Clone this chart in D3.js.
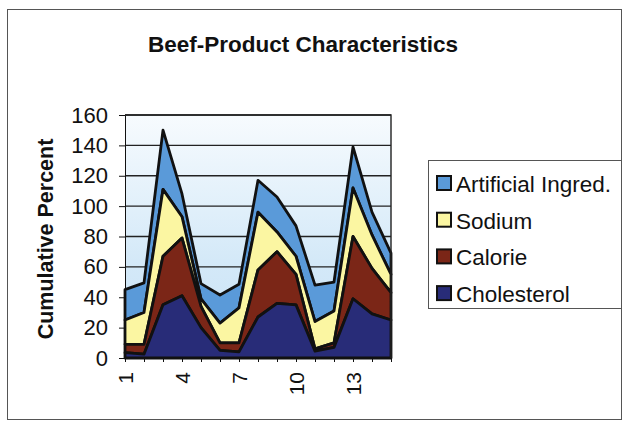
<!DOCTYPE html>
<meta charset="utf-8">
<style>
body { margin: 0; background: #fff; }
text { font-family: Arial, "Liberation Sans", sans-serif; fill: #111; }
.area { stroke: #111; stroke-width: 2.8; stroke-linejoin: round; }
.grid line { stroke: #222; stroke-width: 1.4; }
.axis path, .axis line { stroke: #111; }
</style>
<svg id="svg" width="623" height="422"></svg>
<script src="https://d3js.org/d3.v7.min.js"></script>
<script>
var categories = d3.range(1, 16);
var seriesNames = ["Cholesterol", "Calorie", "Sodium", "Artificial Ingred."];
var cholesterol = [3.5, 2.5, 35, 41, 20, 5, 4, 27, 36, 35, 4.5, 7, 39, 29, 25];
var calorie     = [5.5, 6.5, 32, 38, 14, 5, 6, 31, 34, 20, 1.5, 3, 41, 30, 18];
var sodium      = [16, 21, 44, 14, 5, 13, 23, 38, 13, 12, 18, 21, 32, 22, 12];
var artificial  = [20, 19.5, 39, 15, 10, 18.5, 15.5, 21, 23, 20, 24, 19, 27, 15, 14];
var yTicks = [0, 20, 40, 60, 80, 100, 120, 140, 160];
var xLabels = [1, 4, 7, 10, 13];
var colors = ["#282c78", "#7b2617", "#fbf6a2", "#5a9ad9"];

var svg = d3.select("svg");
var plot = {left: 125, right: 391, top: 115, bottom: 358};

// outer frame
svg.append("rect").attr("x", 7.5).attr("y", 9.5).attr("width", 614).attr("height", 410)
  .attr("fill", "none").attr("stroke", "#555");

var defs = svg.append("defs");
var grad = defs.append("linearGradient").attr("id", "bg").attr("x1", 0).attr("y1", 0).attr("x2", 0).attr("y2", 1);
grad.append("stop").attr("offset", "0%").attr("stop-color", "#f7fbfe");
grad.append("stop").attr("offset", "60%").attr("stop-color", "#d4e9f8");
grad.append("stop").attr("offset", "100%").attr("stop-color", "#c8e2f6");

var x = d3.scalePoint().domain(categories).range([plot.left, plot.right]);
var y = d3.scaleLinear().domain([0, 160]).range([plot.bottom, plot.top]);

svg.append("rect").attr("x", plot.left).attr("y", plot.top)
  .attr("width", plot.right - plot.left).attr("height", plot.bottom - plot.top)
  .attr("fill", "url(#bg)");

// gridlines
svg.append("g").attr("class", "grid")
  .selectAll("line").data(yTicks.slice(1)).enter().append("line")
  .attr("x1", plot.left).attr("x2", plot.right)
  .attr("y1", function(d) { return y(d); }).attr("y2", function(d) { return y(d); });

// stacked areas
var table = categories.map(function(c, i) {
  return {cat: c, "Cholesterol": cholesterol[i], "Calorie": calorie[i], "Sodium": sodium[i], "Artificial Ingred.": artificial[i]};
});
var stacked = d3.stack().keys(seriesNames)(table);
var area = d3.area()
  .x(function(d) { return x(d.data.cat); })
  .y0(function(d) { return y(d[0]); })
  .y1(function(d) { return y(d[1]); });

svg.selectAll(".area").data(stacked.slice().reverse()).enter().append("path")
  .attr("class", "area")
  .attr("fill", function(d) { return colors[seriesNames.indexOf(d.key)]; })
  .attr("d", area);

// plot frame (top/right)
svg.append("path")
  .attr("d", "M" + plot.left + "," + plot.top + "H" + plot.right + "V" + plot.bottom)
  .attr("fill", "none").attr("stroke", "#222").attr("stroke-width", 1.4);

// y axis
var yAxis = svg.append("g").attr("class", "axis")
  .attr("transform", "translate(" + plot.left + ",0)")
  .call(d3.axisLeft(y).tickValues(yTicks).tickSize(6).tickSizeOuter(0).tickPadding(11));
yAxis.selectAll("text").style("font-size", "22px");

// x axis
var xAxis = svg.append("g").attr("class", "axis")
  .attr("transform", "translate(0," + plot.bottom + ")")
  .call(d3.axisBottom(x).tickSize(4).tickSizeOuter(0)
    .tickFormat(function(d) { return xLabels.indexOf(d) >= 0 ? d : ""; }));
xAxis.selectAll("text")
  .style("font-size", "21px")
  .attr("transform", "rotate(-90)")
  .attr("x", -14).attr("y", 0).attr("dy", "0.36em")
  .attr("text-anchor", "end");

// titles
svg.append("text").attr("x", 303).attr("y", 52).attr("text-anchor", "middle")
  .style("font-size", "22.5px").style("font-weight", "bold")
  .text("Beef-Product Characteristics");
svg.append("text").attr("transform", "translate(53,239) rotate(-90)").attr("text-anchor", "middle")
  .style("font-size", "21.5px").style("font-weight", "bold")
  .text("Cumulative Percent");

// legend
var legend = svg.append("g");
legend.append("rect").attr("x", 428.5).attr("y", 160.5).attr("width", 193).attr("height", 148)
  .attr("fill", "#fff").attr("stroke", "#555");
var order = seriesNames.slice().reverse();
var items = legend.selectAll(".item").data(order).enter().append("g")
  .attr("transform", function(d, i) { return "translate(0," + (192 + i * 36.7) + ")"; });
items.append("rect").attr("x", 437).attr("y", -16).attr("width", 14).attr("height", 14)
  .attr("fill", function(d) { return colors[seriesNames.indexOf(d)]; })
  .attr("stroke", "#111").attr("stroke-width", 2);
items.append("text").attr("x", 456).attr("y", 0).style("font-size", "22.5px")
  .text(function(d) { return d; });
</script>
